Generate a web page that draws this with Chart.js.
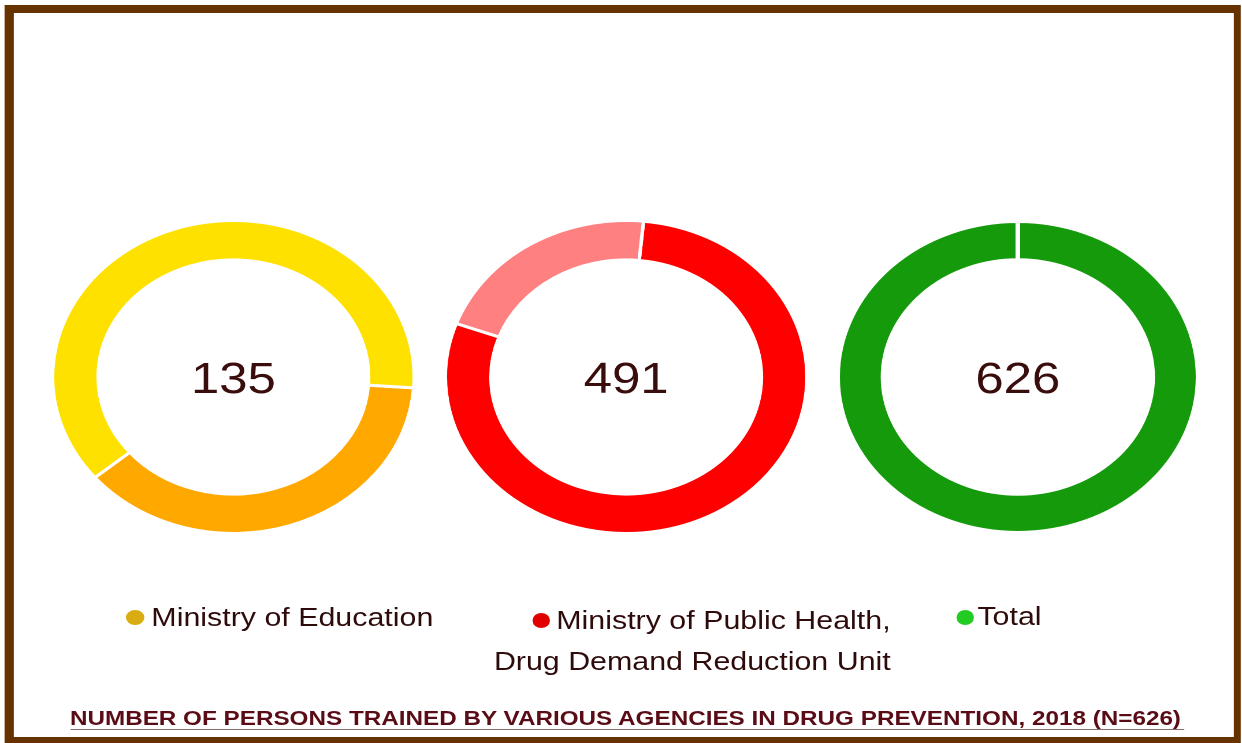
<!DOCTYPE html>
<html>
<head>
<meta charset="utf-8">
<script src="https://cdn.jsdelivr.net/npm/chart.js@4"></script>
<style>
  html, body { margin: 0; padding: 0; background: #fff; overflow: hidden; }
  #page {
    position: absolute; left: 0; top: 0;
    width: 1075px; height: 743px;
    transform: scale(1.1553, 1); transform-origin: 0 0;
    font-family: "Liberation Sans", Arial, sans-serif;
  }
  #frame {
    position: absolute; left: 4.3px; top: 5px; width: 1056px; height: 724px;
    border-style: solid; border-color: #663300;
    border-width: 8px 6px 6px 8.7px;
  }
  .ring { position: absolute; top: 219px; width: 316px; height: 316px; }
  .dot { position: absolute; width: 15.6px; height: 15px; border-radius: 50%; margin: -7.5px 0 0 -7.8px; }
  .label { position: absolute; font-size: 26.3px; line-height: 26px; color: #2e0b0b; white-space: nowrap; }
  #title {
    position: absolute; left: 60.5px; top: 707px;
    font-size: 21px; line-height: 21px; font-weight: bold; color: #5a0c16; white-space: nowrap;
    padding-right: 3px; padding-bottom: 1px; border-bottom: 1.5px solid #8a6c6c;
  }
</style>
</head>
<body>
<div id="page">
  <div id="frame"></div>
  <canvas id="education" class="ring" width="316" height="316" style="left:44px"></canvas>
  <canvas id="health" class="ring" width="316" height="316" style="left:384px"></canvas>
  <canvas id="total" class="ring" width="316" height="316" style="left:723px"></canvas>
  <div id="legend"></div>
  <div id="title"></div>
</div>
<script>
var agencies = ['Ministry of Education', 'Ministry of Public Health,', 'Drug Demand Reduction Unit', 'Total'];
var educationParts = [51, 84];
var healthParts = [388, 103];
var totalParts = [626];
var chartTitle = 'NUMBER OF PERSONS TRAINED BY VARIOUS AGENCIES IN DRUG PREVENTION, 2018 (N=626)';

(function() {
  // number in the middle of each ring is the sum of its slices
  var centerTotal = {
    id: 'centerTotal',
    afterDraw: chart => {
      var ctx = chart.ctx;
      var arc = chart.getDatasetMeta(0).data[0];
      var sum = chart.data.datasets[0].data.reduce((a, b) => a + b, 0);
      ctx.save();
      ctx.font = '44px "Liberation Sans", Arial, sans-serif';
      ctx.fillStyle = '#3a0d0d';
      ctx.textAlign = 'center';
      ctx.textBaseline = 'alphabetic';
      ctx.fillText(String(sum), arc.x, arc.y + 16);
      ctx.restore();
    }
  };

  function renderRing(id, values, colors, rotation, border) {
    var ctx = document.getElementById(id).getContext('2d');
    return new Chart(ctx, {
      type: 'doughnut',
      data: {
        datasets: [{
          data: values,
          backgroundColor: colors,
          borderColor: '#ffffff',
          borderWidth: border
        }]
      },
      options: {
        responsive: false,
        animation: false,
        devicePixelRatio: 2,
        rotation: rotation,
        cutout: '74.8%',
        events: [],
        plugins: { legend: { display: false }, tooltip: { enabled: false } }
      },
      plugins: [centerTotal]
    });
  }

  renderRing('education', educationParts, ['#ffa800', '#ffe100'], 94, 3);
  renderRing('health', healthParts, ['#fe0000', '#ff8080'], 5.5, 3);
  renderRing('total', totalParts, ['#159a0c'], 0, 4);

  var legend = document.getElementById('legend');
  var dots = [
    { x: 116.9, y: 617, color: '#d9ad12' },
    { x: 468.3, y: 620, color: '#e00000' },
    { x: 835.3, y: 617, color: '#22cc22' }
  ];
  var labels = [
    { x: 131, top: 604, text: agencies[0] },
    { x: 481.5, top: 607, text: agencies[1] },
    { x: 427.5, top: 648, text: agencies[2] },
    { x: 846, top: 603, text: agencies[3] }
  ];
  dots.forEach(d => {
    var el = document.createElement('span');
    el.className = 'dot';
    el.style.left = d.x + 'px';
    el.style.top = d.y + 'px';
    el.style.background = d.color;
    legend.appendChild(el);
  });
  labels.forEach(l => {
    var el = document.createElement('div');
    el.className = 'label';
    el.style.left = l.x + 'px';
    el.style.top = l.top + 'px';
    el.textContent = l.text;
    legend.appendChild(el);
  });

  document.getElementById('title').textContent = chartTitle;
})();
</script>
</body>
</html>
